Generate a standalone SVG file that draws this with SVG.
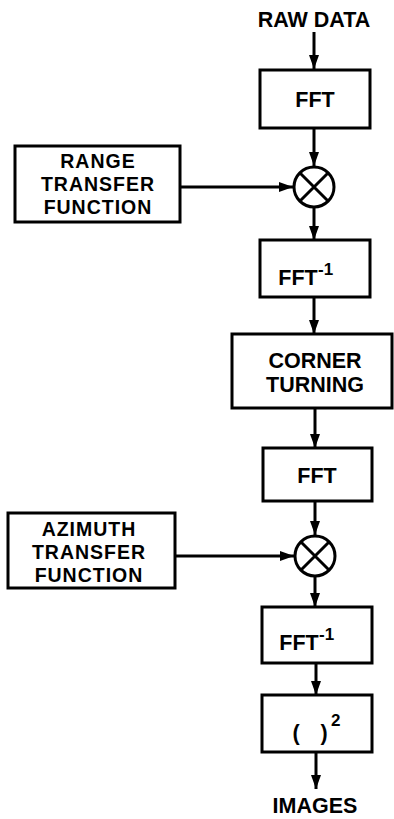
<svg xmlns="http://www.w3.org/2000/svg" width="394" height="819" viewBox="0 0 394 819">
<style>
.box{fill:#fff;stroke:#000;stroke-width:3}
.t{font-family:"Liberation Sans",Arial,sans-serif;font-weight:bold;font-size:21.5px;fill:#000;text-anchor:middle}
.m{font-size:19.5px;letter-spacing:1px}
.sup{font-family:"Liberation Sans",Arial,sans-serif;font-weight:bold;font-size:17px;fill:#000}
.c{fill:none;stroke:#000;stroke-width:3}
</style>
<defs>
<marker id="ah" markerUnits="userSpaceOnUse" markerWidth="14" markerHeight="10" refX="14" refY="5" orient="auto">
<path d="M0,0 L14,5 L0,10 z" fill="#000"/>
</marker>
</defs>
<rect width="394" height="819" fill="#fff"/>
<g id="connectors" class="c" marker-end="url(#ah)">
<line x1="314" y1="32" x2="314" y2="69"/>
<line x1="314" y1="128" x2="314" y2="166"/>
<line x1="180" y1="187" x2="293" y2="187"/>
<line x1="314" y1="208" x2="314" y2="240"/>
<line x1="314" y1="297" x2="314" y2="334"/>
<line x1="315" y1="408" x2="315" y2="448"/>
<line x1="315" y1="501" x2="315" y2="535"/>
<line x1="175" y1="556" x2="294" y2="556"/>
<line x1="315" y1="577" x2="315" y2="607"/>
<line x1="316" y1="663" x2="316" y2="695"/>
<line x1="316" y1="752" x2="316" y2="789"/>
</g>
<g id="raw-data"><text class="t" x="314" y="27">RAW DATA</text></g>
<g id="fft1"><rect class="box" x="260" y="70" width="110" height="58"/><text class="t" x="315" y="107" font-size="19">FFT</text></g>
<g id="range-tf"><rect class="box" x="15" y="146" width="165" height="76"/>
<text class="t m" x="98" y="168">RANGE</text><text class="t m" x="98" y="191">TRANSFER</text><text class="t m" x="98" y="214">FUNCTION</text></g>
<g id="mult1"><circle class="c" cx="314" cy="187" r="20"/><path class="c" d="M300,173 L328,201 M328,173 L300,201"/></g>
<g id="ifft1"><rect class="box" x="260" y="240" width="110" height="57"/><text class="t" x="298" y="285" font-size="19">FFT</text><text class="sup" x="318" y="275">-1</text></g>
<g id="corner"><rect class="box" x="232" y="334" width="160" height="74"/><text class="t" x="315" y="368">CORNER</text><text class="t" x="315" y="392">TURNING</text></g>
<g id="fft2"><rect class="box" x="263" y="448" width="109" height="53"/><text class="t" x="317" y="483" font-size="19">FFT</text></g>
<g id="azimuth-tf"><rect class="box" x="8" y="513" width="167" height="75"/>
<text class="t m" x="89" y="536">AZIMUTH</text><text class="t m" x="89" y="559">TRANSFER</text><text class="t m" x="89" y="582">FUNCTION</text></g>
<g id="mult2"><circle class="c" cx="315" cy="556" r="20"/><path class="c" d="M301,542 L329,570 M329,542 L301,570"/></g>
<g id="ifft2"><rect class="box" x="262" y="607" width="110" height="56"/><text class="t" x="299" y="650" font-size="19">FFT</text><text class="sup" x="319" y="640">-1</text></g>
<g id="square"><rect class="box" x="262" y="695" width="110" height="57"/><text class="t" x="296" y="740" font-size="24">(</text><text class="t" x="324" y="740" font-size="24">)</text><text class="sup" x="331" y="726">2</text></g>
<g id="images"><text class="t" x="315" y="813">IMAGES</text></g>
</svg>
